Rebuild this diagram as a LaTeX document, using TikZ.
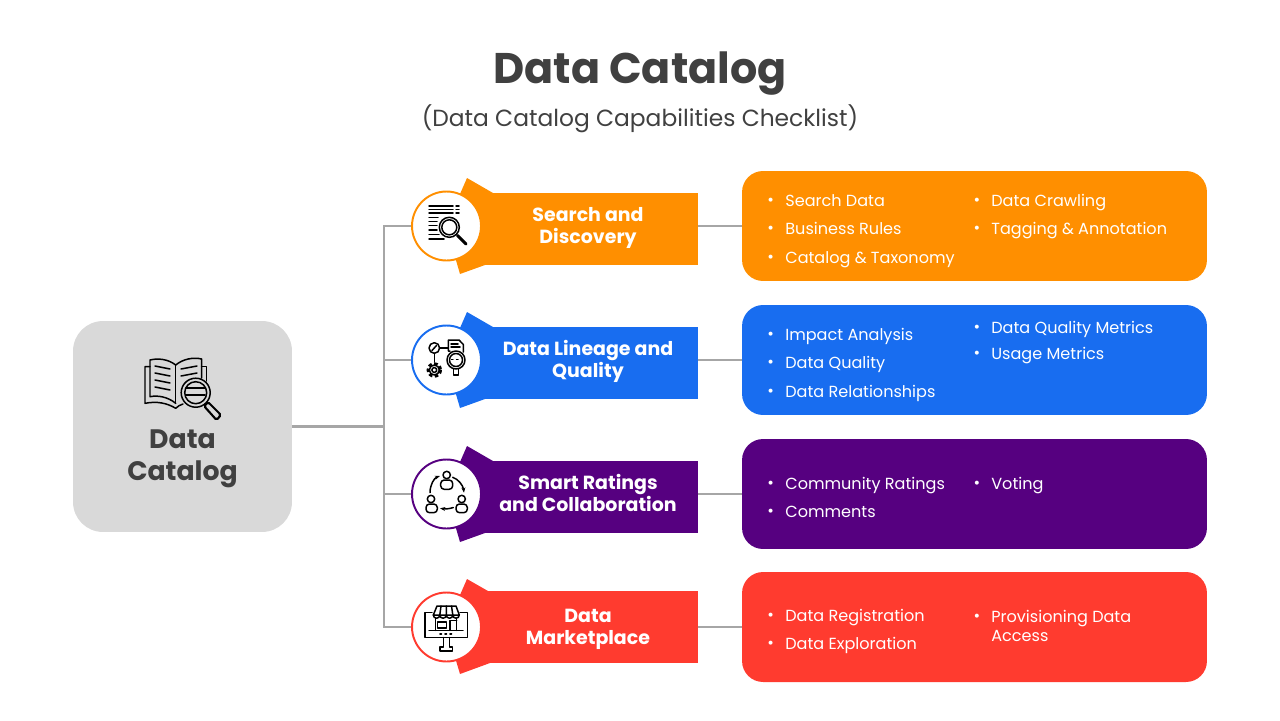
\documentclass[tikz,border=0pt]{standalone}
\usepackage{fontspec}
\setmainfont{Poppins}
\usepackage{tikz}
\usetikzlibrary{arrows.meta,shapes,positioning,calc}
\definecolor{dcorange}{RGB}{255,143,0}
\definecolor{dcblue}{RGB}{24,109,240}
\definecolor{dcpurple}{RGB}{86,0,128}
\definecolor{dcred}{RGB}{255,59,47}
\definecolor{dcgray}{RGB}{217,217,217}
\definecolor{dcline}{RGB}{166,166,166}
\definecolor{dctext}{RGB}{64,64,64}
\tikzset{
  hubbox/.style={fill=dcgray, rounded corners=0.6cm, minimum width=4.38cm, minimum height=4.22cm, inner sep=0pt},
  barbox/.style={minimum width=4.4cm, minimum height=1.44cm, inner sep=0pt},
  barlabel/.style={text=white, align=center, font=\fontsize{10.8}{12.6}\selectfont\bfseries},
  iconring/.style={circle, fill=white, line width=1.1pt, minimum size=1.38cm, inner sep=0pt},
  catcard/.style={rounded corners=0.42cm, minimum width=9.3cm, minimum height=2.2cm, inner sep=0pt},
  catitem/.style={anchor=west, text=white, inner sep=0pt, align=left, text height=7.8pt, text depth=0pt, font=\fontsize{9.15}{10.8}\selectfont},
  catdot/.style={text=white, inner sep=0pt, text height=8pt, text depth=1.2pt, font=\fontsize{9.15}{10.8}\selectfont},
  bullet/.style={catitem, label={[catdot, xshift=-6pt]left:•}},
  link/.style={draw=dcline, line width=1.2pt},
  icon/.style={line width=0.85pt, line cap=round, line join=round, black},
  iconthick/.style={line width=1.7pt, line cap=round, black}
}
\begin{document}
\begin{tikzpicture}[x=0.02cm, y=-0.02cm]
    \useasboundingbox (0,0) rectangle (1280,720);

    % Title
    \node[text=dctext, font=\fontsize{24.4}{30}\selectfont\bfseries] (title) at (640,74) {Data Catalog};
    \node[text=dctext, font=\fontsize{13.3}{17}\selectfont] (subtitle) at (640,119) {(Data Catalog Capabilities Checklist)};

    % Left side: hub
    \node[hubbox] (hub) at (182.5,426.5) {};
    \node[text=dctext, align=center, font=\fontsize{15.2}{18.2}\selectfont\bfseries] (hublabel) at (182.5,459) {Data\\Catalog};

    % Banner tails
    \fill[dcorange] (467,178) -- (493,193) -- (485,265) -- (460,274) -- (446,226) -- cycle;
    \fill[dcblue] (467,312) -- (493,327) -- (485,399) -- (460,408) -- (446,360) -- cycle;
    \fill[dcpurple] (467,446) -- (493,461) -- (485,533) -- (460,542) -- (446,494) -- cycle;
    \fill[dcred] (467,579) -- (488,591) -- (490,663) -- (460,674) -- (446,627) -- cycle;

    % Banners
    \node[barbox, fill=dcorange] (searchbar) at (588,229) {};
    \node[barbox, fill=dcblue] (qualitybar) at (588,363) {};
    \node[barbox, fill=dcpurple] (ratingbar) at (588,497) {};
    \node[barbox, fill=dcred] (marketbar) at (588,627) {};
    \node[barlabel] (searchlabel) at (588,228) {Search and\\Discovery};
    \node[barlabel] (qualitylabel) at (588,361) {Data Lineage and\\Quality};
    \node[barlabel] (ratinglabel) at (588,493) {Smart Ratings\\and Collaboration};
    \node[barlabel] (marketlabel) at (588,629) {Data\\Marketplace};

    % Icon rings
    \node[iconring, draw=dcorange] (searchicon) at (446.5,226) {};
    \node[iconring, draw=dcblue] (qualityicon) at (446.5,360) {};
    \node[iconring, draw=dcpurple] (ratingicon) at (446.5,494) {};
    \node[iconring, draw=dcred] (marketicon) at (446.5,627) {};

    % Right side: cards
    \node[catcard, fill=dcorange] (searchcard) at (974.5,226) {};
    \node[catcard, fill=dcblue] (qualitycard) at (974.5,360) {};
    \node[catcard, fill=dcpurple] (ratingcard) at (974.5,494) {};
    \node[catcard, fill=dcred] (marketcard) at (974.5,627) {};

    % Links
    \coordinate (bus) at (384,426.5);
    \draw[link] (hub.east) -- (bus);
    \draw[link] (searchicon.west) -- (bus |- searchicon.west) -- (bus |- marketicon.west) -- (marketicon.west);
    \draw[link] (bus |- qualityicon.west) -- (qualityicon.west);
    \draw[link] (bus |- ratingicon.west) -- (ratingicon.west);
    \draw[link] (searchbar.east |- searchcard.west) -- (searchcard.west);
    \draw[link] (qualitybar.east |- qualitycard.west) -- (qualitycard.west);
    \draw[link] (ratingbar.east |- ratingcard.west) -- (ratingcard.west);
    \draw[link] (marketbar.east |- marketcard.west) -- (marketcard.west);

    % Card items
    \node[bullet] (itema) at (785,200) {Search Data};
    \node[bullet] (itemb) at (785,228) {Business Rules};
    \node[bullet] (itemc) at (785,257) {Catalog \& Taxonomy};
    \node[bullet] (itemd) at (991,200) {Data Crawling};
    \node[bullet] (iteme) at (991,228) {Tagging \& Annotation};

    \node[bullet] (itemf) at (785,334) {Impact Analysis};
    \node[bullet] (itemg) at (785,362) {Data Quality};
    \node[bullet] (itemh) at (785,391) {Data Relationships};
    \node[bullet] (itemi) at (991,327) {Data Quality Metrics};
    \node[bullet] (itemj) at (991,353) {Usage Metrics};

    \node[bullet] (itemk) at (785,483) {Community Ratings};
    \node[bullet] (iteml) at (785,511) {Comments};
    \node[bullet] (itemm) at (991,483) {Voting};

    \node[bullet] (itemn) at (785,615) {Data Registration};
    \node[bullet] (itemo) at (785,643) {Data Exploration};
    \node[catitem] (itemp) at (991,634.3) {Provisioning Data\\Access};
    \node[catdot, anchor=east, xshift=-6pt, yshift=0.366cm] (itempdot) at (itemp.west) {•};

    % Hub icon: book
    \draw[icon] (175.7,365) .. controls (168,359) and (158,358) .. (150,360) -- (150,396.7) .. controls (158,395) and (168,397) .. (175.7,403.3);
    \draw[icon] (175.7,365) .. controls (183,359) and (193,357) .. (201.7,359) -- (201.7,378);
    \draw[icon] (175.7,365) -- (175.7,403.3);
    \draw[icon] (150,366.7) -- (145,366.7) -- (145,403.3) .. controls (157,401) and (167,403) .. (175.7,408.3) .. controls (178,406) and (180,405) .. (183,404);
    \draw[icon] (201.7,366.7) -- (206.7,366.7) -- (206.7,381);
    \draw[icon] (155,366) -- (170,369) (155,373) -- (170,376) (155,380) -- (170,383) (155,387) -- (170,390);
    \draw[icon] (181,369) -- (197,366) (181,376) -- (197,373);
    \filldraw[icon, fill=dcgray] (195.7,392.7) circle (14.5);
    \draw[icon] (195.7,392.7) circle (11);
    \draw[icon] (186,388) -- (205,388) (186,395) -- (205,395);
    \draw[line width=1.2pt, black, rounded corners=1pt] (204,406) -- (208,402) -- (221,415) -- (216.5,420) -- cycle;

    % Search icon
    \draw[icon] (429,206) -- (453,206) (429,209.5) -- (453,209.5) (429,213) -- (453,213);
    \draw[icon] (456,206) -- (459,206) (456,209.5) -- (459,209.5) (456,213) -- (459,213);
    \draw[icon] (429,217.7) -- (438,217.7) (429,221.7) -- (437,221.7) (429,225.7) -- (437,225.7) (429,230) -- (437,230) (429,234.3) -- (439,234.3) (429,239) -- (444,239);
    \draw[icon] (449.3,227.3) circle (10);
    \draw[icon] (449.3,227.3) circle (7.5);
    \draw[iconthick] (457.5,235.5) -- (466,244);

    % Quality icon
    \draw[icon] (434.3,348) circle (5.3);
    \draw[icon] (432,350.5) -- (436.5,345.5);
    \draw[icon] (434.3,353.3) -- (434.3,362) (439.6,348) -- (448.3,348);
    \draw[icon, dash pattern=on 2pt off 1.4pt, line cap=butt, line width=1.5pt] (434.3,370) circle (6.4);
    \draw[icon] (434.3,370) circle (5) (434.3,370) circle (2.4);
    \draw[icon] (450,351) -- (448.3,351) -- (448.3,340) -- (459,340) -- (463.3,344.5) -- (463.3,352);
    \draw[icon] (451,344) -- (458,344) (451,347) -- (460,347);
    \draw[icon] (456,360) circle (9);
    \draw[icon] (456,360) circle (6.5);
    \draw[icon, dotted] (451.5,359.5) -- (461,359.5);
    \draw[icon] (453.5,369) -- (453.5,375) -- (458.5,375) -- (458.5,369);

    % Rating icon
    \draw[icon] (446.7,475) circle (3.7);
    \draw[icon, rounded corners=2pt] (440.7,489.3) rectangle (452.7,480);
    \draw[icon] (431,499) circle (3.7);
    \draw[icon, rounded corners=2pt] (426,512.7) rectangle (437.3,504);
    \draw[icon] (461.7,499) circle (3.7);
    \draw[icon, rounded corners=2pt] (456,512.7) rectangle (467.3,504);
    \draw[icon, -{Stealth[length=3pt]}] (430,492.7) .. controls (430,485) and (434,478) .. (440,476);
    \draw[icon, -{Stealth[length=3pt]}] (452.7,477.3) .. controls (458,479) and (463,485) .. (464,492.7);
    \draw[icon, -{Stealth[length=3pt]}] (453.3,507.5) .. controls (449,509) and (445,509) .. (440,508.3);

    % Market icon
    \draw[icon] (432,612.7) -- (425,612.7) -- (425,637.7) -- (467.7,637.7) -- (467.7,612.7) -- (460,612.7);
    \draw[icon] (429,630.3) -- (463,630.3);
    \draw[icon] (443.5,637.7) -- (443.5,647) -- (440,647) -- (440,651) -- (452.7,651) -- (452.7,647) -- (449.5,647) -- (449.5,637.7);
    \draw[icon, dotted, line width=1.1pt] (440,634.3) -- (454,634.3);
    \draw[icon] (437,606) -- (456,606) -- (459.3,615) -- (433.3,615) -- cycle;
    \draw[icon] (433.3,615) arc (180:0:3.25) arc (180:0:3.25) arc (180:0:3.25) arc (180:0:3.25);
    \draw[icon] (441,606) -- (439.8,615) (446.3,606) -- (446.3,615) (451.5,606) -- (452.8,615);
    \draw[icon] (435.7,618) -- (435.7,630.3) (456.7,618) -- (456.7,630.3);
    \draw[icon] (437.5,622) rectangle (446.7,628);
    \draw[icon] (450,630.3) -- (450,620.5) -- (456.7,620.5);
\end{tikzpicture}
\end{document}
